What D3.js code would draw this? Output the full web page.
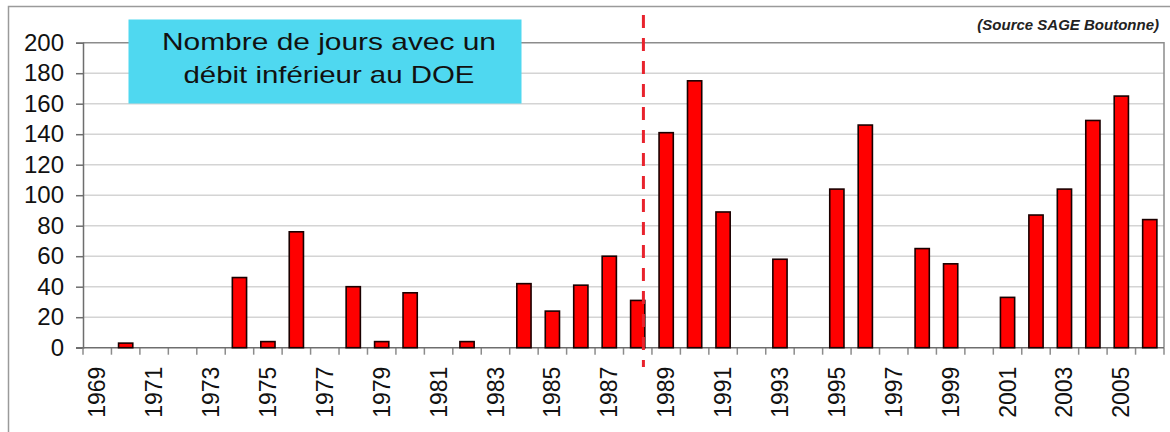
<!DOCTYPE html>
<html>
<head>
<meta charset="utf-8">
<script src="https://cdn.jsdelivr.net/npm/d3@7"></script>
<style>
  html, body { margin: 0; padding: 0; background: #ffffff; }
  svg { display: block; font-family: "Liberation Sans", Arial, sans-serif; }
</style>
</head>
<body>
<svg id="chart" width="1170" height="432"></svg>
<script>
// Nombre de jours par an avec un débit inférieur au DOE (Boutonne)
const years = d3.range(1969, 2007).map(String);
const days = [
  0, 3, 0, 0, 0, 46, 4, 76, 0, 40,
  4, 36, 0, 4, 0, 42, 24, 41, 60, 31,
  141, 175, 89, 0, 58, 0, 104, 146, 0, 65,
  55, 0, 33, 87, 104, 149, 165, 84
];
const yTicks = [0, 20, 40, 60, 80, 100, 120, 140, 160, 180, 200];
const xTickLabels = years.filter((d, i) => i % 2 === 0);
const titleLines = ["Nombre de jours avec un", "débit inférieur au DOE"];
const sourceText = "(Source SAGE Boutonne)";
const breakYear = 1988.7; // position of the vertical dashed marker

const svg = d3.select("#chart");
const plot = { left: 83, right: 1164, top: 42.7, bottom: 347.7 };

const x = d3.scaleBand()
  .domain(years)
  .range([plot.left, plot.right])
  .paddingInner(0.5)
  .paddingOuter(0.25);
const xYear = d3.scaleLinear()
  .domain([1969, 2007])
  .range([plot.left, plot.right]);
const y = d3.scaleLinear().domain([0, 200]).range([plot.bottom, plot.top]);

// outer frame
svg.append("rect")
  .attr("x", 8.5).attr("y", 6.5)
  .attr("width", 1200).attr("height", 500)
  .attr("fill", "none").attr("stroke", "#9a9a9a").attr("stroke-width", 1.5);

// horizontal gridlines
svg.append("g")
  .selectAll("line")
  .data(yTicks.filter(d => d > 0 && d < 200))
  .join("line")
  .attr("x1", plot.left).attr("x2", plot.right)
  .attr("y1", d => y(d)).attr("y2", d => y(d))
  .attr("stroke", "#d4d4d4").attr("stroke-width", 1.5);

// plot border (top and right)
svg.append("path")
  .attr("d", `M${plot.left},${y(200)}H${plot.right}V${plot.bottom}`)
  .attr("fill", "none").attr("stroke", "#8c8c8c").attr("stroke-width", 1.5);

// y axis
const yAxis = svg.append("g")
  .attr("transform", `translate(${plot.left},0)`)
  .call(d3.axisLeft(y).tickValues(yTicks).tickSize(7).tickPadding(12));
yAxis.select(".domain").attr("stroke", "#6e6e6e").attr("stroke-width", 1.5);
yAxis.selectAll(".tick line").attr("stroke", "#6e6e6e").attr("stroke-width", 1.5);
yAxis.selectAll(".tick text")
  .attr("font-size", 24).attr("fill", "#111")
  .attr("font-family", "'Liberation Sans', Arial, sans-serif");

// x axis: ticks at category boundaries
const bounds = d3.range(1969, 2008);
svg.append("g")
  .selectAll("line")
  .data(bounds)
  .join("line")
  .attr("x1", d => xYear(d)).attr("x2", d => xYear(d))
  .attr("y1", plot.bottom).attr("y2", plot.bottom + 7)
  .attr("stroke", "#8c8c8c").attr("stroke-width", 1.5);
svg.append("line")
  .attr("x1", plot.left - 7).attr("x2", plot.right)
  .attr("y1", plot.bottom).attr("y2", plot.bottom)
  .attr("stroke", "#6e6e6e").attr("stroke-width", 1.5);

svg.append("g")
  .selectAll("text")
  .data(xTickLabels)
  .join("text")
  .attr("transform", d => `translate(${x(d) + x.bandwidth() / 2},${plot.bottom + 19}) rotate(-90)`)
  .attr("text-anchor", "end")
  .attr("dy", "0.35em")
  .attr("font-size", 23)
  .attr("fill", "#111")
  .text(d => d);

// bars
svg.append("g")
  .selectAll("rect")
  .data(years.map((yr, i) => ({ yr, v: days[i] })).filter(d => d.v > 0))
  .join("rect")
  .attr("x", d => x(d.yr))
  .attr("y", d => y(d.v))
  .attr("width", x.bandwidth())
  .attr("height", d => y(0) - y(d.v))
  .attr("fill", "#ff0000")
  .attr("stroke", "#1a0000")
  .attr("stroke-width", 1.6);

// vertical dashed marker
svg.append("line")
  .attr("x1", xYear(breakYear)).attr("x2", xYear(breakYear))
  .attr("y1", 15).attr("y2", 367)
  .attr("stroke", "#e8232d").attr("stroke-width", 3)
  .attr("stroke-dasharray", "13 10");

// title box
svg.append("rect")
  .attr("x", 128.5).attr("y", 19.5)
  .attr("width", 393).attr("height", 84)
  .attr("fill", "#4fd8f0");
const titleWidths = [334, 291];
svg.append("g")
  .selectAll("text")
  .data(titleLines)
  .join("text")
  .attr("x", 329)
  .attr("y", (d, i) => 49.5 + i * 33.3)
  .attr("text-anchor", "middle")
  .attr("font-size", 24)
  .attr("fill", "#111")
  .attr("textLength", (d, i) => titleWidths[i])
  .attr("lengthAdjust", "spacingAndGlyphs")
  .text(d => d);

// source note
svg.append("text")
  .attr("x", 1159).attr("y", 30)
  .attr("text-anchor", "end")
  .attr("font-size", 15)
  .attr("font-weight", "bold")
  .attr("font-style", "italic")
  .attr("fill", "#222")
  .text(sourceText);
</script>
</body>
</html>
